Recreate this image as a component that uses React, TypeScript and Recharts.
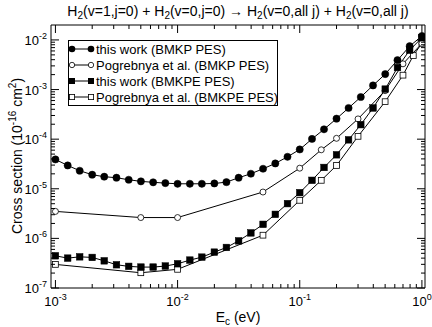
import React from 'react';
import { LineChart, Line, XAxis, YAxis } from 'recharts';

// Collision energies (eV) of the dense grid used in "this work"
const energyThisWork = [
  0.001, 0.00126, 0.00158, 0.002, 0.00251, 0.00316, 0.00398, 0.00501, 0.00631, 0.00794,
  0.01, 0.0126, 0.0158, 0.02, 0.0251, 0.0316, 0.0398, 0.0501, 0.0631, 0.0794,
  0.1, 0.126, 0.158, 0.2, 0.251, 0.316, 0.398, 0.501, 0.631, 0.794, 1.0,
];
// this work (BMKP PES)
const sigmaThisWorkBMKP = [
  3.9e-5, 2.95e-5, 2.31e-5, 1.92e-5, 1.75e-5, 1.67e-5, 1.52e-5, 1.41e-5, 1.35e-5, 1.3e-5,
  1.26e-5, 1.26e-5, 1.26e-5, 1.28e-5, 1.36e-5, 1.67e-5, 2.01e-5, 2.53e-5, 3.24e-5, 4.41e-5,
  6.2e-5, 1.01e-4, 1.58e-4, 2.59e-4, 4.25e-4, 7.07e-4, 1.21e-3, 2.05e-3, 3.91e-3, 7.47e-3, 1.2e-2,
];
// this work (BMKPE PES)
const sigmaThisWorkBMKPE = [
  4.46e-7, 4.0e-7, 4.25e-7, 4.13e-7, 3.53e-7, 2.94e-7, 2.73e-7, 2.64e-7, 2.64e-7, 2.77e-7,
  3.08e-7, 3.65e-7, 4.19e-7, 5.28e-7, 6.56e-7, 8.91e-7, 1.29e-6, 1.92e-6, 3.05e-6, 5.02e-6,
  8.35e-6, 1.48e-5, 2.69e-5, 4.84e-5, 9.69e-5, 1.96e-4, 4.25e-4, 1.02e-3, 2.78e-3, 6.21e-3, 1.11e-2,
];
// Pogrebnya et al. (BMKP PES)
const energyPogrebnyaBMKP = [0.001, 0.005, 0.01, 0.05, 0.1, 0.15, 0.2, 0.3, 0.5, 0.7, 1.0];
const sigmaPogrebnyaBMKP = [3.5e-6, 2.63e-6, 2.63e-6, 8.6e-6, 2.6e-5, 6.1e-5, 1.04e-4, 2.56e-4, 9.5e-4, 3.3e-3, 8.5e-3];
// Pogrebnya et al. (BMKPE PES)
const energyPogrebnyaBMKPE = [0.001, 0.005, 0.01, 0.05, 0.1, 0.15, 0.2, 0.3, 0.5, 0.7, 0.85, 1.0];
const sigmaPogrebnyaBMKPE = [2.99e-7, 2.03e-7, 2.38e-7, 1.16e-6, 5.85e-6, 1.48e-5, 2.95e-5, 1.14e-4, 5.69e-4, 1.95e-3, 4.84e-3, 8.6e-3];

const xMajorTicks = [0.001, 0.01, 0.1, 1];
const yMajorTicks = [1e-7, 1e-6, 1e-5, 1e-4, 1e-3, 1e-2];
const minorSteps = [2, 3, 4, 5, 6, 7, 8, 9];
const xDomain = [0.00092, 1.06];
const yDomain = [1e-7, 2e-2];

const legendLabels = [
  'this work (BMKP PES)',
  'Pogrebnya et al. (BMKP PES)',
  'this work (BMKPE PES)',
  'Pogrebnya et al. (BMKPE PES)',
];

const FONT = '"Liberation Sans", Arial, Helvetica, sans-serif';

const withMinors = (majors: number[], maxV: number) => {
  const out: number[] = [];
  majors.forEach((m) => {
    out.push(m);
    minorSteps.forEach((s) => {
      const v = m * s;
      if (v < maxV) out.push(v);
    });
  });
  return out;
};
const xTicks = withMinors(xMajorTicks, xDomain[1]);
const yTicks = withMinors(yMajorTicks, yDomain[1]);

const isMajor = (v: number) => Math.abs(Math.log10(v) - Math.round(Math.log10(v))) < 1e-6;

const pair = (xs: number[], ys: number[]) => xs.map((x, i) => ({ x, y: ys[i] }));
const dataA = pair(energyThisWork, sigmaThisWorkBMKP);
const dataB = pair(energyPogrebnyaBMKP, sigmaPogrebnyaBMKP);
const dataC = pair(energyThisWork, sigmaThisWorkBMKPE);
const dataD = pair(energyPogrebnyaBMKPE, sigmaPogrebnyaBMKPE);

const MAJ = 8;
const MIN = 4;

const BottomTick = (p: any) => {
  const { x, y, payload } = p;
  const v = payload.value;
  const maj = isMajor(v);
  const e = Math.round(Math.log10(v));
  return (
    <g>
      <line x1={x} x2={x} y1={y} y2={y - (maj ? MAJ : MIN)} stroke="#000" strokeWidth={1} />
      {maj && (
        <text x={x} y={y + 18} textAnchor="middle" fontSize={13} fontFamily={FONT} fill="#000">
          10<tspan dy={-6} fontSize={9}>{e}</tspan>
        </text>
      )}
    </g>
  );
};
const TopTick = (p: any) => {
  const { x, y, payload } = p;
  const maj = isMajor(payload.value);
  return <line x1={x} x2={x} y1={y} y2={y + (maj ? MAJ : MIN)} stroke="#000" strokeWidth={1} />;
};
const LeftTick = (p: any) => {
  const { x, y, payload } = p;
  const v = payload.value;
  const maj = isMajor(v);
  const e = Math.round(Math.log10(v));
  return (
    <g>
      <line x1={x} x2={x + (maj ? MAJ : MIN)} y1={y} y2={y} stroke="#000" strokeWidth={1} />
      {maj && (
        <text x={x - 4} y={y + 5} textAnchor="end" fontSize={13} fontFamily={FONT} fill="#000">
          10<tspan dy={-6} fontSize={9}>{e}</tspan>
        </text>
      )}
    </g>
  );
};
const RightTick = (p: any) => {
  const { x, y, payload } = p;
  const maj = isMajor(payload.value);
  return <line x1={x} x2={x - (maj ? MAJ : MIN)} y1={y} y2={y} stroke="#000" strokeWidth={1} />;
};

const FilledCircle = (p: any) => (
  <circle key={`fc-${p.index}`} cx={p.cx} cy={p.cy} r={3.6} fill="#000" stroke="#000" strokeWidth={0.5} />
);
const OpenCircle = (p: any) => (
  <circle key={`oc-${p.index}`} cx={p.cx} cy={p.cy} r={3} fill="#fff" stroke="#000" strokeWidth={0.8} />
);
const FilledSquare = (p: any) => (
  <rect key={`fs-${p.index}`} x={p.cx - 3.3} y={p.cy - 3.3} width={6.6} height={6.6} fill="#000" stroke="#000" strokeWidth={0.5} />
);
const OpenSquare = (p: any) => (
  <rect key={`os-${p.index}`} x={p.cx - 2.9} y={p.cy - 2.9} width={5.8} height={5.8} fill="#fff" stroke="#000" strokeWidth={0.8} />
);

const legendMarkers = [
  (cx: number, cy: number) => <circle cx={cx} cy={cy} r={3.3} fill="#000" />,
  (cx: number, cy: number) => <circle cx={cx} cy={cy} r={2.7} fill="#fff" stroke="#000" strokeWidth={0.8} />,
  (cx: number, cy: number) => <rect x={cx - 3} y={cy - 3} width={6} height={6} fill="#000" />,
  (cx: number, cy: number) => <rect x={cx - 2.6} y={cy - 2.6} width={5.2} height={5.2} fill="#fff" stroke="#000" strokeWidth={0.8} />,
];

export default function App() {
  return (
    <div style={{ position: 'absolute', left: 0, top: 0, width: 432, height: 327, background: '#fff' }}>
      <LineChart width={432} height={327} data={dataA} margin={{ top: 24, right: 6, bottom: 38, left: 50 }}>
        <XAxis
          dataKey="x"
          type="number"
          scale="log"
          domain={xDomain}
          allowDataOverflow
          ticks={xTicks}
          interval={0}
          tick={<BottomTick />}
          tickLine={false}
          tickSize={0}
          tickMargin={0}
          height={1}
          axisLine={{ stroke: '#000', strokeWidth: 1 }}
        />
        <XAxis
          xAxisId="top"
          orientation="top"
          dataKey="x"
          type="number"
          scale="log"
          domain={xDomain}
          allowDataOverflow
          ticks={xTicks}
          interval={0}
          tick={<TopTick />}
          tickLine={false}
          tickSize={0}
          tickMargin={0}
          height={1}
          axisLine={{ stroke: '#000', strokeWidth: 1 }}
        />
        <YAxis
          type="number"
          scale="log"
          domain={yDomain}
          allowDataOverflow
          ticks={yTicks}
          interval={0}
          tick={<LeftTick />}
          tickLine={false}
          tickSize={0}
          tickMargin={0}
          width={1}
          axisLine={{ stroke: '#000', strokeWidth: 1 }}
        />
        <YAxis
          yAxisId="right"
          orientation="right"
          type="number"
          scale="log"
          domain={yDomain}
          allowDataOverflow
          ticks={yTicks}
          interval={0}
          tick={<RightTick />}
          tickLine={false}
          tickSize={0}
          tickMargin={0}
          width={1}
          axisLine={{ stroke: '#000', strokeWidth: 1 }}
        />
        <Line data={dataD} dataKey="y" type="linear" stroke="#000" strokeWidth={1} dot={OpenSquare} isAnimationActive={false} />
        <Line data={dataB} dataKey="y" type="linear" stroke="#000" strokeWidth={1} dot={OpenCircle} isAnimationActive={false} />
        <Line data={dataC} dataKey="y" type="linear" stroke="#000" strokeWidth={1} dot={FilledSquare} isAnimationActive={false} />
        <Line data={dataA} dataKey="y" type="linear" stroke="#000" strokeWidth={1} dot={FilledCircle} isAnimationActive={false} />
      </LineChart>
      <svg
        width={432}
        height={327}
        style={{ position: 'absolute', left: 0, top: 0, pointerEvents: 'none' }}
        fontFamily={FONT}
      >
        <text x={238} y={16} textAnchor="middle" fontSize={14} fill="#000">
          H<tspan dy={3} fontSize={10}>2</tspan>
          <tspan dy={-3}>(v=1,j=0) + H</tspan>
          <tspan dy={3} fontSize={10}>2</tspan>
          <tspan dy={-3}>(v=0,j=0) → H</tspan>
          <tspan dy={3} fontSize={10}>2</tspan>
          <tspan dy={-3}>(v=0,all j) + H</tspan>
          <tspan dy={3} fontSize={10}>2</tspan>
          <tspan dy={-3}>(v=0,all j)</tspan>
        </text>
        <text x={238} y={322} textAnchor="middle" fontSize={14} fill="#000">
          E<tspan dy={3} fontSize={10}>c</tspan>
          <tspan dy={-3}> (eV)</tspan>
        </text>
        <text transform="translate(22,156) rotate(-90)" x={0} y={0} textAnchor="middle" fontSize={14} fill="#000">
          Cross section (10<tspan dy={-6} fontSize={10}>-16</tspan>
          <tspan dy={6}> cm</tspan>
          <tspan dy={-6} fontSize={10}>2</tspan>
          <tspan dy={6}>)</tspan>
        </text>
        <rect x={68.5} y={40.5} width={209} height={65} fill="#fff" stroke="#000" strokeWidth={1} />
        {legendLabels.map((lab, i) => {
          const cy = 49 + i * 16;
          return (
            <g key={lab}>
              <line x1={72} x2={91} y1={cy} y2={cy} stroke="#000" strokeWidth={1} />
              {legendMarkers[i](72, cy)}
              {legendMarkers[i](91, cy)}
              <text x={96} y={cy + 4.5} fontSize={13} fill="#000">
                {lab}
              </text>
            </g>
          );
        })}
      </svg>
    </div>
  );
}
